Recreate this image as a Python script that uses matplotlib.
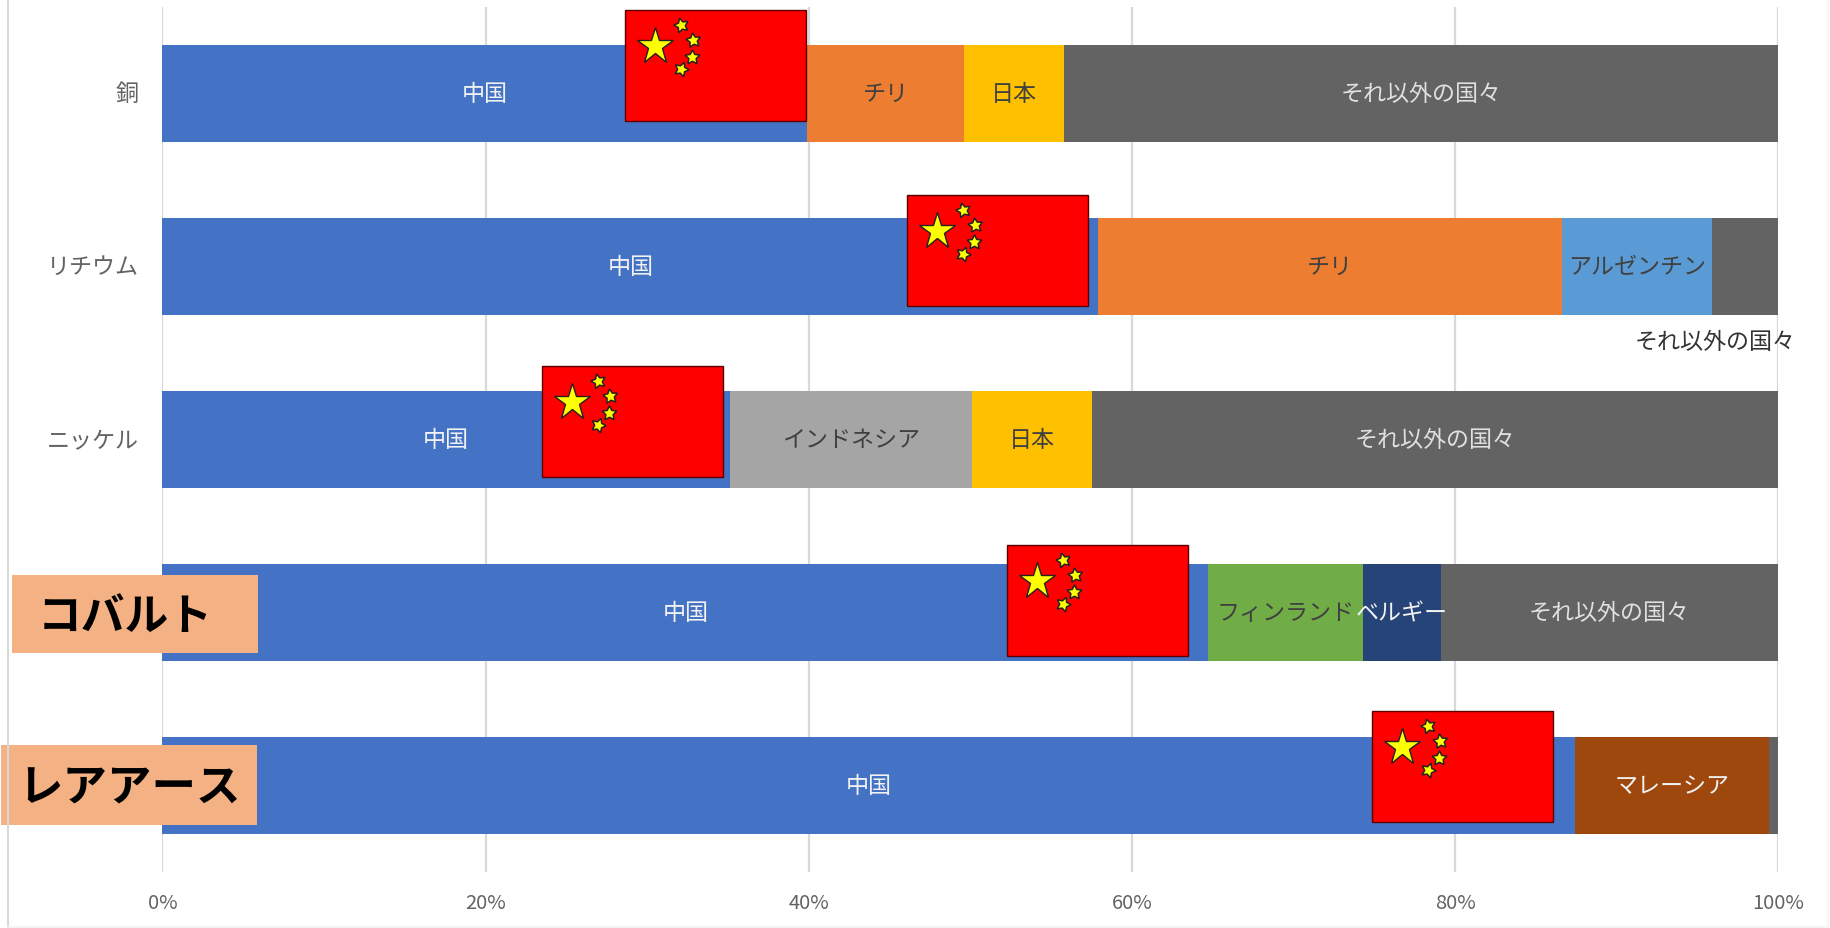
import matplotlib

matplotlib.use("Agg")
import matplotlib.pyplot as plt
from matplotlib.lines import Line2D
from matplotlib.patches import Rectangle

plt.rcParams["font.family"] = ["Noto Sans CJK JP", "DejaVu Sans"]

WIDTH, HEIGHT = 1831, 929

CATEGORIES = ["銅", "リチウム", "ニッケル", "コバルト", "レアアース"]
XTICKS = [0, 20, 40, 60, 80, 100]

# share of each country, percent
CHINA = [39.9, 57.9, 35.1, 64.7, 87.4]
CHILE = [9.7, 28.7, 0, 0, 0]
ARGENTINA = [0, 9.3, 0, 0, 0]
INDONESIA = [0, 0, 15.0, 0, 0]
JAPAN = [6.2, 0, 7.4, 0, 0]
FINLAND = [0, 0, 0, 9.6, 0]
BELGIUM = [0, 0, 0, 4.8, 0]
MALAYSIA = [0, 0, 0, 0, 12.0]
OTHERS = [44.2, 4.1, 42.5, 20.9, 0.6]

SERIES = [
    ("中国", CHINA, "#4472C4", "#F2F2F2"),
    ("チリ", CHILE, "#ED7D31", "#404040"),
    ("アルゼンチン", ARGENTINA, "#5B9BD5", "#404040"),
    ("インドネシア", INDONESIA, "#A5A5A5", "#404040"),
    ("日本", JAPAN, "#FFC000", "#404040"),
    ("フィンランド", FINLAND, "#70AD47", "#404040"),
    ("ベルギー", BELGIUM, "#264478", "#F2F2F2"),
    ("マレーシア", MALAYSIA, "#9E480E", "#F2F2F2"),
    ("それ以外の国々", OTHERS, "#636363", "#E0E0E0"),
]

# segments too small to carry their own label inside the bar
NO_INSIDE_LABEL = {("それ以外の国々", 1), ("それ以外の国々", 4)}

# flag top-left corners in pixels
FLAGS = [(625, 11), (907, 196), (542, 367), (1007, 546), (1372, 712)]
FLAG_W, FLAG_H = 181, 111
BIG_STAR = (29.7, 36.0)
SMALL_STARS = [(56, 15, 15), (68.3, 30, 8), (67, 47, 0), (56, 59.3, -20)]


def draw_flag(ax, left, top):
    ax.add_patch(Rectangle((left, top), FLAG_W, FLAG_H, facecolor="#FF0000", edgecolor="#5A0000", lw=1))
    ax.plot(left + BIG_STAR[0], top + BIG_STAR[1], marker="*", ms=28, mfc="#FFFF00", mec="#222222", mew=1.0)
    for dx, dy, angle in SMALL_STARS:
        ax.plot(left + dx, top + dy, marker=(5, 1, angle), ms=11, mfc="#FFFF00", mec="#222222", mew=1.1)


fig = plt.figure(figsize=(WIDTH / 100, HEIGHT / 100), dpi=100, facecolor="white")
ax = fig.add_axes([162.5 / WIDTH, 1 - 873.2 / HEIGHT, 1616 / WIDTH, 865 / HEIGHT])

left_edge = [0] * len(CATEGORIES)
for name, values, color, text_color in SERIES:
    ax.barh(range(len(CATEGORIES)), values, left=left_edge, height=0.56, color=color, zorder=2)
    for i, value in enumerate(values):
        if value > 0 and (name, i) not in NO_INSIDE_LABEL:
            ax.text(left_edge[i] + value / 2, i, name, ha="center", va="center", fontsize=16.6, color=text_color, zorder=3)
    left_edge = [a + b for a, b in zip(left_edge, values)]

# this one was dragged out of its segment in the original
ax.text(96.05, 1.43, "それ以外の国々", ha="center", va="center", fontsize=16.6, color="#333333", zorder=3)

ax.set_xlim(0, 100)
ax.set_ylim(4.5, -0.5)
ax.set_xticks(XTICKS, labels=[f"{t}%" for t in XTICKS])
ax.set_yticks(range(len(CATEGORIES)), labels=CATEGORIES)
ax.tick_params(axis="both", length=0, labelsize=14.5, labelcolor="#636363")
ax.tick_params(axis="x", pad=14.5)
ax.tick_params(axis="y", labelsize=16.6, pad=17)
for label in ax.get_yticklabels():
    label.set_va("center")
# the last two axis labels sit behind the pasted boxes
for label in ax.get_yticklabels()[3:]:
    label.set_visible(False)
ax.grid(axis="x", color="#D9D9D9", lw=1.6, zorder=0)
ax.set_axisbelow(True)
for spine in ax.spines.values():
    spine.set_visible(False)

# chart frame left over from the screenshot
fig.add_artist(Line2D([8 / WIDTH, 8 / WIDTH], [0, 1], color="#D9D9D9", lw=1.5))
fig.add_artist(Line2D([8 / WIDTH, 1828 / WIDTH], [1 / HEIGHT, 1 / HEIGHT], color="#F2F2F2", lw=1.2))
fig.add_artist(Line2D([1828 / WIDTH, 1828 / WIDTH], [0, 1], color="#F5F5F5", lw=1.2))

# overlay in pixel coordinates for the pasted flags and label boxes
over = fig.add_axes([0, 0, 1, 1], facecolor="none")
over.set_xlim(0, WIDTH)
over.set_ylim(HEIGHT, 0)
over.axis("off")

for left, top in FLAGS:
    draw_flag(over, left, top)

over.add_patch(Rectangle((12, 576), 246, 78, facecolor="#F4B183", edgecolor="none"))
over.text(125, 617, "コバルト", ha="center", va="center", fontsize=31.5, fontweight="bold", color="black")
over.add_patch(Rectangle((1, 746), 256, 80, facecolor="#F4B183", edgecolor="none"))
over.text(130, 789, "レアアース", ha="center", va="center", fontsize=32, fontweight="bold", color="black")

fig.savefig("out.png", dpi=100)
